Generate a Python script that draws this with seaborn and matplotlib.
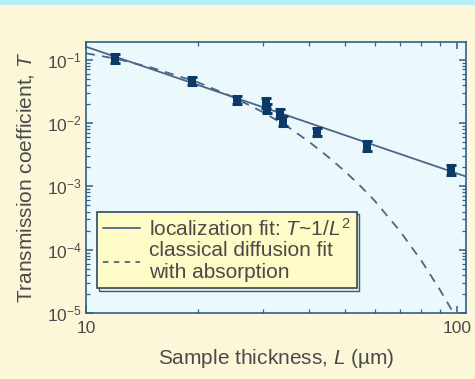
import numpy as np
import pandas as pd
import matplotlib
matplotlib.use("Agg")
import matplotlib.pyplot as plt
import matplotlib.ticker as mticker
from matplotlib.patches import Rectangle
from matplotlib.lines import Line2D
import seaborn as sns

# ---------------- data ----------------
thickness_um = [12.0, 19.3, 25.5, 30.5, 30.7, 33.3, 33.9, 41.9, 57.3, 96.4]
transmission = [0.104, 0.0455, 0.0232, 0.0210, 0.0169, 0.0141, 0.0109, 0.00716, 0.00427, 0.00179]
err_decades = [0.068, 0.066, 0.066, 0.08, 0.07, 0.07, 0.08, 0.06, 0.079, 0.079]

loc_fit_L = [10.0, 106.0]
loc_fit_T = [0.16, 0.00142]

diff_fit_L = [10, 12, 15, 20, 25, 30, 35, 40, 45, 50, 55, 60, 70, 80, 90, 100]
diff_fit_T = [0.126, 0.104, 0.075, 0.044, 0.0254, 0.0148, 0.0087, 0.0050, 0.0029,
              0.0017, 0.00100, 0.00059, 0.00020, 0.000068, 0.000023, 0.0000080]

x_ticks = [10, 100]
x_tick_labels = ["10", "100"]

# ---------------- style ----------------
sns.set_theme(style="ticks")
plt.rcParams["font.family"] = ["Liberation Sans", "DejaVu Sans"]
plt.rcParams["mathtext.fontset"] = "custom"
plt.rcParams["mathtext.rm"] = "Liberation Sans"
plt.rcParams["mathtext.it"] = "Liberation Sans:italic"
plt.rcParams["mathtext.default"] = "regular"

text_col = "#4a4a4a"
spine_col = "#2f5f8a"
line_col = "#4d6688"
mark_col = "#0c3a66"

fig = plt.figure(figsize=(4.75, 3.79), dpi=100)
fig.patch.set_facecolor("#fdf7da")
fig.add_artist(Rectangle((0, 1 - 5 / 379), 1, 5 / 379, transform=fig.transFigure,
                         facecolor="#b6eef8", edgecolor="none"))

ax = fig.add_axes([86 / 475, 1 - 313 / 379, (466 - 86) / 475, (313 - 42) / 379])
ax.set_facecolor("#ecf9fc")

df_pts = pd.DataFrame({"L": thickness_um, "T": transmission, "e": err_decades})
df_loc = pd.DataFrame({"L": loc_fit_L, "T": loc_fit_T})
df_diff = pd.DataFrame({"L": diff_fit_L, "T": diff_fit_T})

sns.lineplot(data=df_loc, x="L", y="T", ax=ax, color=line_col, lw=1.3)
sns.lineplot(data=df_diff, x="L", y="T", ax=ax, color=line_col, lw=1.3,
             linestyle=(0, (5, 4)))

T = df_pts["T"].to_numpy()
e = df_pts["e"].to_numpy()
lower = T - T / 10 ** e
upper = T * 10 ** e - T
ax.errorbar(df_pts["L"], T, yerr=[lower, upper], fmt="none", ecolor=mark_col,
            elinewidth=2.2, capsize=3.4, capthick=2.2, zorder=4)
sns.scatterplot(data=df_pts, x="L", y="T", ax=ax, marker="s", s=32, color=mark_col,
                edgecolor=mark_col, linewidth=0, zorder=5)

ax.set_xscale("log")
ax.set_yscale("log")
ax.set_xlim(10, 105.7)
ax.set_ylim(1e-5, 0.19)

ax.set_xticks(x_ticks)
ax.set_xticklabels(x_tick_labels)
ax.xaxis.set_minor_locator(mticker.LogLocator(base=10, subs=np.arange(2, 10)))
ax.xaxis.set_minor_formatter(mticker.NullFormatter())
ax.yaxis.set_major_locator(mticker.LogLocator(base=10, numticks=10))
ax.yaxis.set_minor_locator(mticker.LogLocator(base=10, subs=np.arange(2, 10), numticks=20))
ax.yaxis.set_minor_formatter(mticker.NullFormatter())

for s in ax.spines.values():
    s.set_color(spine_col)
    s.set_linewidth(1.2)

ax.tick_params(which="both", direction="in", top=True, right=True, color=spine_col,
               labelcolor=text_col, labelsize=12.5)
ax.tick_params(which="major", length=5, width=1.1)
ax.tick_params(which="minor", length=3, width=0.9)
ax.tick_params(axis="x", which="major", pad=6)
ax.tick_params(axis="y", which="major", pad=3)

ax.set_xlabel("Sample thickness, $\\mathit{L}$ (\u00b5m)", fontsize=15, color=text_col, labelpad=8)
ax.set_ylabel("Transmission coefficient, $\\mathit{T}$", fontsize=15, color=text_col, labelpad=8)

handles = [Line2D([], [], color=line_col, lw=1.3),
           Line2D([], [], color=line_col, lw=1.3, linestyle=(0, (3, 3)))]
labels = ["localization fit: $\\mathit{T}$~1/$\\mathit{L}^2$",
          "classical diffusion fit\nwith absorption"]
leg = ax.legend(handles, labels, loc="lower left", bbox_to_anchor=(0.028, 0.092),
                borderaxespad=0, fontsize=15, frameon=True, fancybox=False,
                handlelength=1.8, handletextpad=0.4, labelspacing=0.05,
                borderpad=0.3,
                shadow={"facecolor": "#f1edc4", "edgecolor": spine_col, "alpha": 1, "linewidth": 1.0})
leg.get_frame().set_facecolor("#fffbc6")
leg.get_frame().set_edgecolor("#2d4866")
leg.get_frame().set_linewidth(1.2)
leg.get_frame().set_alpha(1)
for t in leg.get_texts():
    t.set_color(text_col)

fig.savefig("out.png", dpi=100, facecolor=fig.get_facecolor())
